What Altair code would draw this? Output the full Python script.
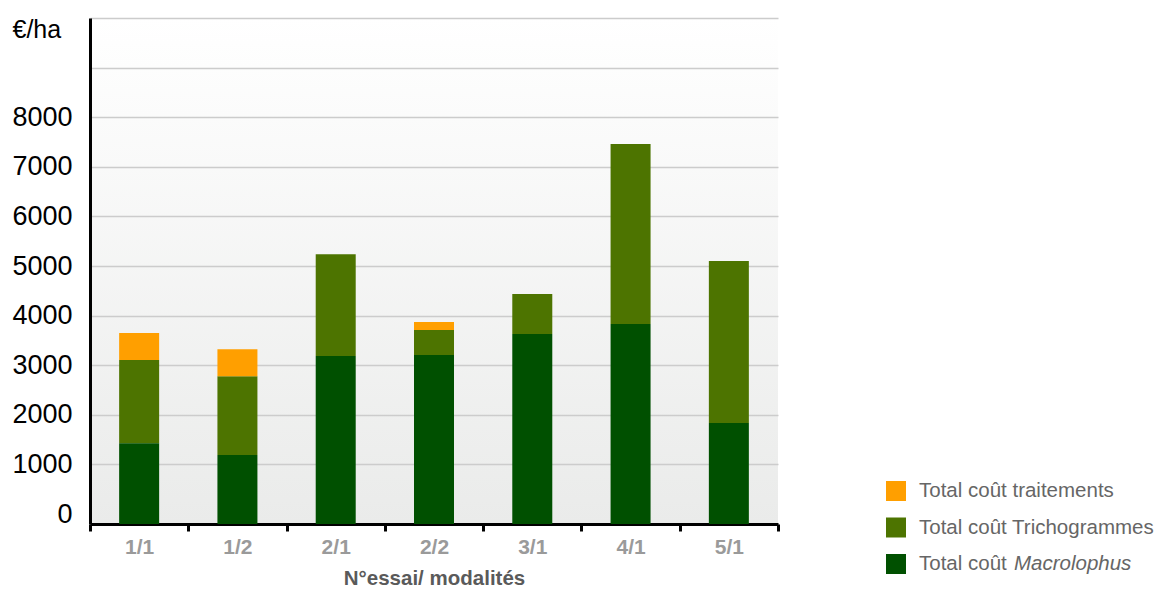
import altair as alt
import pandas as pd

categories = ["1/1", "1/2", "2/1", "2/2", "3/1", "4/1", "5/1"]
macrolophus = [1430, 1190, 3185, 3205, 3630, 3830, 1835]
trichogrammes = [1675, 1590, 2055, 505, 805, 3630, 3265]
traitements = [545, 545, 0, 160, 0, 0, 0]

series_names = ["Total coût Macrolophus", "Total coût Trichogrammes", "Total coût traitements"]
series_colors = ["#005000", "#4D7400", "#FF9F00"]
y_ticks = list(range(0, 10001, 1000))

rows = []
for i, c in enumerate(categories):
    for order, (name, vals) in enumerate(zip(series_names, [macrolophus, trichogrammes, traitements])):
        rows.append({"cat": c, "series": name, "value": vals[i], "order": order})
df = pd.DataFrame(rows)

legend_df = pd.DataFrame({
    "series": ["Total coût traitements", "Total coût Trichogrammes", "Total coût Macrolophus"],
    "prefix": ["Total coût traitements", "Total coût Trichogrammes", "Total coût "],
    "italic": ["", "", "Macrolophus"],
})

FONT = "Liberation Sans"

color_scale = alt.Scale(domain=series_names, range=series_colors)

x_enc = alt.X(
    "cat:N", sort=categories,
    scale=alt.Scale(paddingInner=0, paddingOuter=0),
    axis=alt.Axis(
        title="N°essai/ modalités", labelAngle=0, tickBand="extent",
        tickSize=7, tickWidth=3, tickColor="black",
        domainWidth=3, domainColor="black",
        labelFont=FONT, labelFontSize=21, labelFontWeight="bold", labelColor="#9a9a9a",
        labelPadding=5, titleFont=FONT, titleFontSize=20.5, titleFontWeight="bold",
        titleColor="#5a5a5a", titlePadding=11, grid=False,
    ),
)

y_scale = alt.Scale(domain=[-200, 10000], nice=False)
y_axis = alt.Axis(
    values=y_ticks, format="d",
    labelExpr="datum.value >= 9000 ? '' : datum.label",
    ticks=False, labelPadding=18, labelFont=FONT, labelFontSize=27, labelColor="black",
    domainWidth=3, domainColor="black",
    gridColor="#cccccc", gridWidth=1.5,
    gridOpacity={"condition": {"test": "datum.value === 0", "value": 0}, "value": 1},
    title="€/ha", titleAngle=0, titleAlign="left", titleBaseline="middle",
    titleX=-78, titleY=11, titleFont=FONT, titleFontSize=25, titleFontWeight="normal",
    titleColor="black",
)

base = alt.Chart(df).transform_stack(
    stack="value", groupby=["cat"], sort=[alt.SortField("order")], as_=["v0", "v1"]
)

upper = base.transform_filter("datum.order > 0").mark_bar(size=40).encode(
    x=x_enc,
    y=alt.Y("v1:Q", scale=y_scale, axis=y_axis),
    y2="v0:Q",
    color=alt.Color("series:N", scale=color_scale, legend=None),
)
lower = base.transform_filter("datum.order == 0").mark_bar(size=40, y2Offset=10).encode(
    x=x_enc,
    y=alt.Y("v1:Q", scale=y_scale, axis=y_axis),
    y2="v0:Q",
    color=alt.Color("series:N", scale=color_scale, legend=None),
)
bars = alt.layer(upper, lower)

leg_y = alt.Y("series:N", sort=list(legend_df["series"]),
              scale=alt.Scale(type="point", range=[473, 546], padding=0), axis=None)
leg_base = alt.Chart(legend_df)
leg_sq = leg_base.mark_square(size=400, opacity=1).encode(
    x=alt.value(806), y=leg_y,
    color=alt.Color("series:N", scale=color_scale, legend=None),
)
leg_txt = leg_base.mark_text(align="left", baseline="middle", font=FONT, fontSize=20.5,
                             color="#666666").encode(
    x=alt.value(829), y=leg_y, text="prefix:N")
leg_it = leg_base.mark_text(align="left", baseline="middle", font=FONT, fontSize=20.5,
                            fontStyle="italic", color="#666666").encode(
    x=alt.value(924), y=leg_y, text="italic:N")
legend = alt.layer(leg_sq, leg_txt, leg_it)

chart = alt.layer(bars, legend).resolve_scale(
    y="independent"
).properties(
    width=688, height=506,
    autosize=alt.AutoSizeParams(type="none"),
    padding={"left": 82, "top": 10, "right": 382, "bottom": 66},
).configure_view(
    strokeWidth=0,
    fill={"expr": "{gradient: 'linear', x1: 0, y1: 0, x2: 0, y2: 1, stops: [{offset: 0, color: '#ffffff'}, {offset: 1, color: '#eaebea'}]}"},
)

chart.save("out.html", embed_options={"renderer": "svg", "actions": False})
